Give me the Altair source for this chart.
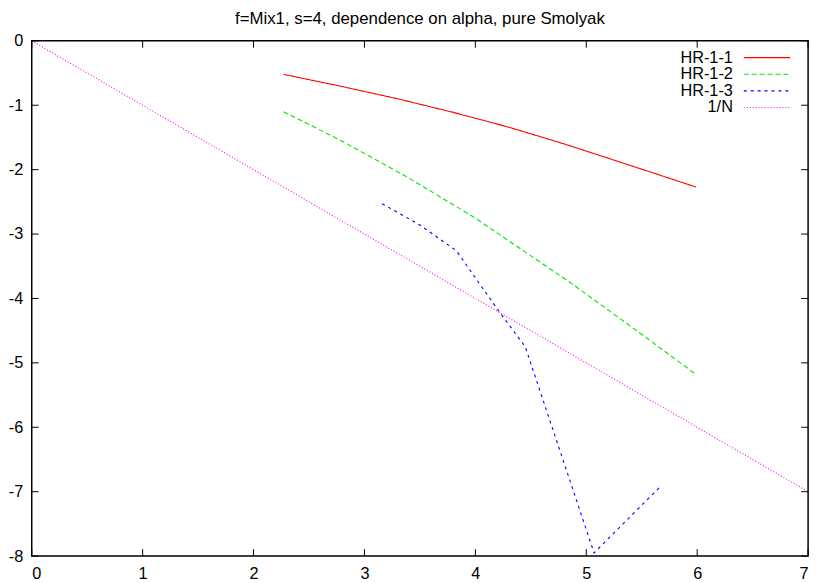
import altair as alt
import pandas as pd

# ---- data ----
hr11_x = [2.27, 2.8, 3.3, 3.8, 4.3, 4.8, 5.3, 5.99]
hr11_y = [-0.52, -0.71, -0.90, -1.11, -1.34, -1.60, -1.88, -2.27]

hr12_x = [2.27, 2.78, 3.38, 3.98, 4.87, 5.47, 5.99]
hr12_y = [-1.10, -1.54, -2.11, -2.73, -3.77, -4.52, -5.18]

hr13_x = [3.16, 3.5, 3.83, 4.0, 4.23, 4.45, 5.07, 5.68]
hr13_y = [-2.53, -2.86, -3.26, -3.68, -4.24, -4.75, -7.95, -6.90]

invn_x = [0, 7]
invn_y = [0, -7]

series_names = ["HR-1-1", "HR-1-2", "HR-1-3", "1/N"]
series_colors = ["#ff0000", "#00e600", "#0000ff", "#ff00ff"]
series_dash = [[1, 0], [5, 3], [3, 4], [1, 2]]

x_ticks = [0, 1, 2, 3, 4, 5, 6, 7]
y_ticks = [-8, -7, -6, -5, -4, -3, -2, -1, 0]

title_text = "f=Mix1, s=4, dependence on alpha, pure Smolyak"

# ---- build tables ----
rows = []
for name, xs, ys in zip(series_names,
                        [hr11_x, hr12_x, hr13_x, invn_x],
                        [hr11_y, hr12_y, hr13_y, invn_y]):
    for i, (a, b) in enumerate(zip(xs, ys)):
        rows.append({"series": name, "x": a, "y": b, "order": i})
df = pd.DataFrame(rows)

W, H = 785, 521
FONT = "Liberation Sans"
FS = 16.5

xscale = alt.Scale(domain=[0, 7], nice=False, zero=False)
yscale = alt.Scale(domain=[-8, 0], nice=False, zero=False)

xaxis = alt.Axis(values=x_ticks, title=None, ticks=False, grid=False, domain=False,
                 labelPadding=10, labelExpr="'' + datum.value",
                 labelFont=FONT, labelFontSize=FS, labelColor="black")
yaxis = alt.Axis(values=y_ticks, title=None, ticks=False, grid=False, domain=False,
                 labelPadding=9, labelExpr="'' + datum.value",
                 labelFont=FONT, labelFontSize=FS, labelColor="black")

layers = []
for name, col, dash in zip(series_names, series_colors, series_dash):
    sub = df[df.series == name]
    layers.append(
        alt.Chart(sub).mark_line(color=col, strokeDash=dash, strokeWidth=1.1, clip=True).encode(
            x=alt.X("x:Q", scale=xscale, axis=xaxis, title=None),
            y=alt.Y("y:Q", scale=yscale, axis=yaxis, title=None),
            order="order:Q",
        )
    )

# inward ticks (mirrored on all sides)
xt = pd.DataFrame({"x": x_ticks})
yt = pd.DataFrame({"y": y_ticks})
tick_len = 7
layers.append(alt.Chart(xt).mark_rule(color="black", strokeWidth=1).encode(
    x=alt.X("x:Q", scale=xscale, axis=xaxis, title=None), y=alt.value(H), y2=alt.value(H - tick_len)))
layers.append(alt.Chart(xt).mark_rule(color="black", strokeWidth=1).encode(
    x=alt.X("x:Q", scale=xscale, axis=xaxis, title=None), y=alt.value(0), y2=alt.value(tick_len)))
layers.append(alt.Chart(yt).mark_rule(color="black", strokeWidth=1).encode(
    y=alt.Y("y:Q", scale=yscale, axis=yaxis, title=None), x=alt.value(0), x2=alt.value(tick_len)))
layers.append(alt.Chart(yt).mark_rule(color="black", strokeWidth=1).encode(
    y=alt.Y("y:Q", scale=yscale, axis=yaxis, title=None), x=alt.value(W), x2=alt.value(W - tick_len)))

# gnuplot-style key (top right, label then sample)
key_text_x = 709
key_line_x1, key_line_x2 = 720, 767
key_y0, key_dy = 17, 16.8
for i, (name, col, dash) in enumerate(zip(series_names, series_colors, series_dash)):
    kd = pd.DataFrame({"series": [name]})
    yy = key_y0 + i * key_dy
    layers.append(alt.Chart(kd).mark_text(align="right", baseline="middle", font=FONT,
                                          fontSize=FS, color="black").encode(
        text="series:N", x=alt.value(key_text_x), y=alt.value(yy)))
    layers.append(alt.Chart(kd).mark_rule(color=col, strokeDash=dash, strokeWidth=1.1).encode(
        x=alt.value(key_line_x1), x2=alt.value(key_line_x2), y=alt.value(yy)))

chart = alt.layer(*layers).properties(
    width=W, height=H,
    title=alt.Title(title_text, anchor="middle", fontSize=17, fontWeight="normal",
                    font=FONT, color="black", offset=5),
    autosize=alt.AutoSizeParams(type="none"),
    padding={"left": 24, "top": 30, "right": 8, "bottom": 24},
    background="white",
).configure_view(stroke="black", strokeWidth=1.5)

chart.save("out.html", embed_options={"renderer": "svg", "actions": False})
